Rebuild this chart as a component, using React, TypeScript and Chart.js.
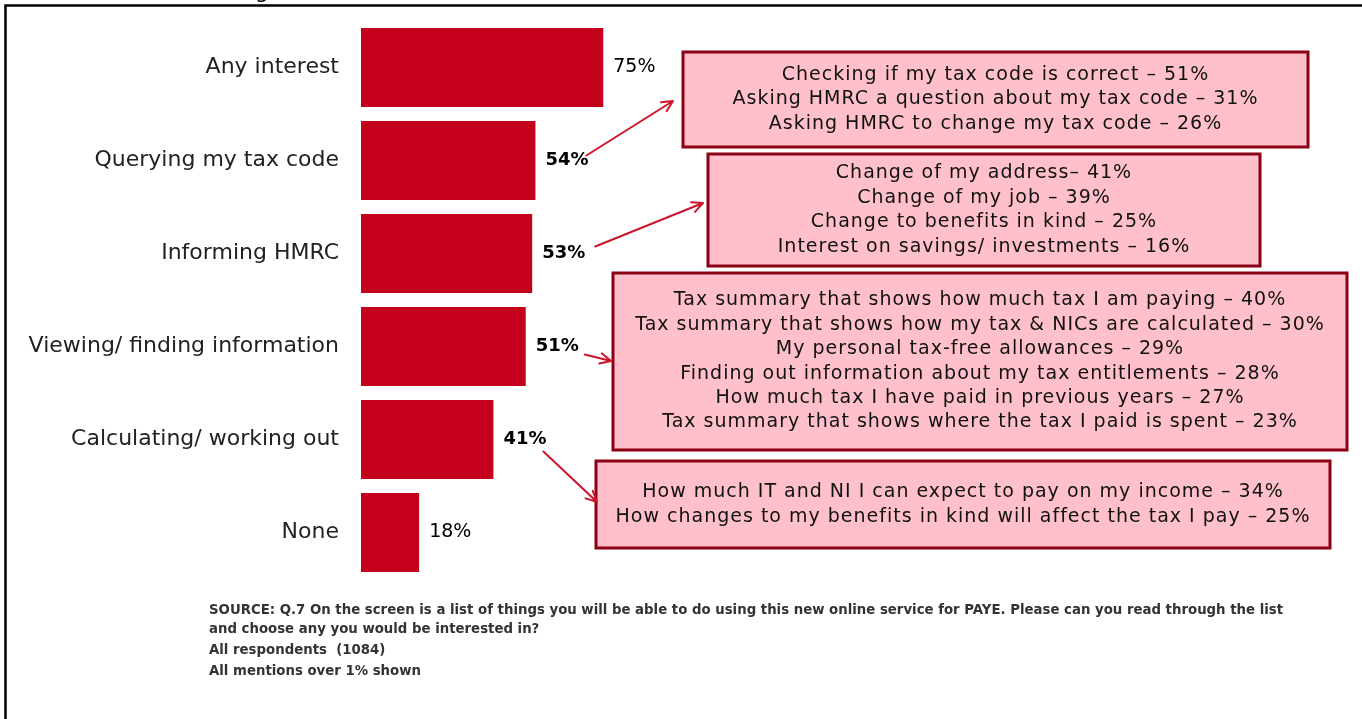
import { useEffect, useRef } from 'react';
import { Chart, registerables } from 'chart.js';

Chart.register(...registerables);

const categories = [
  'Any interest',
  'Querying my tax code',
  'Informing HMRC',
  'Viewing/ finding information',
  'Calculating/ working out',
  'None',
];
const values = [75, 54, 53, 51, 41, 18];
const boldValueLabel = [false, true, true, true, true, false];

const queryingDetails = [
  'Checking if my tax code is correct – 51%',
  'Asking HMRC a question about my tax code – 31%',
  'Asking HMRC to change my tax code – 26%',
];
const informingDetails = [
  'Change of my address– 41%',
  'Change of my job – 39%',
  'Change to benefits in kind – 25%',
  'Interest on savings/ investments – 16%',
];
const viewingDetails = [
  'Tax summary that shows how much tax I am paying – 40%',
  'Tax summary that shows how my tax & NICs are calculated – 30%',
  'My personal tax-free allowances – 29%',
  'Finding out information about my tax entitlements – 28%',
  'How much tax I have paid in previous years – 27%',
  'Tax summary that shows where the tax I paid is spent – 23%',
];
const calculatingDetails = [
  'How much IT and NI I can expect to pay on my income – 34%',
  'How changes to my benefits in kind will affect the tax I pay – 25%',
];
const footnotes = [
  'SOURCE: Q.7 On the screen is a list of things you will be able to do using this new online service for PAYE. Please can you read through the list',
  'and choose any you would be interested in?',
  'All respondents  (1084)',
  'All mentions over 1% shown',
];

// layout of callout boxes (pixel positions) and which bar they point from
const calloutLayout = [
  { lines: queryingDetails, barIndex: 1, rect: [683, 52, 1308, 147], start: [51, -5], end: [673, 101] },
  { lines: informingDetails, barIndex: 2, rect: [708, 154, 1260, 266], start: [63, -7], end: [703, 203] },
  { lines: viewingDetails, barIndex: 3, rect: [613, 273, 1347, 450], start: [59, 8], end: [611, 361] },
  { lines: calculatingDetails, barIndex: 4, rect: [596, 461, 1330, 548], start: [50, 12], end: [597, 502] },
];

const BAR_COLOR = 'rgb(197,0,26)';
const ARROW_COLOR = 'rgb(205,20,45)';
const FONT = '"DejaVu Sans", Verdana, sans-serif';

function drawArrow(ctx: CanvasRenderingContext2D, x1: number, y1: number, x2: number, y2: number) {
  const ang = Math.atan2(y2 - y1, x2 - x1);
  const len = 12;
  const spread = 0.45;
  ctx.save();
  ctx.strokeStyle = ARROW_COLOR;
  ctx.lineWidth = 2;
  ctx.lineCap = 'round';
  ctx.beginPath();
  ctx.moveTo(x1, y1);
  ctx.lineTo(x2, y2);
  ctx.moveTo(x2, y2);
  ctx.lineTo(x2 - len * Math.cos(ang - spread), y2 - len * Math.sin(ang - spread));
  ctx.moveTo(x2, y2);
  ctx.lineTo(x2 - len * Math.cos(ang + spread), y2 - len * Math.sin(ang + spread));
  ctx.stroke();
  ctx.restore();
}

const decorPlugin = {
  id: 'decor',
  beforeDraw(chart: any) {
    const ctx = chart.ctx as CanvasRenderingContext2D;
    ctx.save();
    ctx.fillStyle = '#fff';
    ctx.fillRect(0, 0, chart.width, chart.height);
    // frame
    ctx.strokeStyle = '#000';
    ctx.lineWidth = 2.5;
    ctx.beginPath();
    ctx.moveTo(5.5, chart.height);
    ctx.lineTo(5.5, 5.5);
    ctx.lineTo(chart.width, 5.5);
    ctx.stroke();
    // clipped title fragment
    ctx.fillStyle = '#000';
    ctx.font = `22px ${FONT}`;
    ctx.textBaseline = 'alphabetic';
    ctx.textAlign = 'left';
    ctx.fillText('g', 255, -2);
    ctx.restore();
  },
  afterDatasetsDraw(chart: any) {
    const ctx = chart.ctx as CanvasRenderingContext2D;
    const meta = chart.getDatasetMeta(0);
    ctx.save();
    // value labels
    meta.data.forEach((bar: any, i: number) => {
      ctx.fillStyle = '#000';
      ctx.font = boldValueLabel[i] ? `bold 18px ${FONT}` : `19px ${FONT}`;
      ctx.textAlign = 'left';
      ctx.textBaseline = 'middle';
      ctx.fillText(`${values[i]}%`, bar.x + 10, bar.y);
    });
    // callouts
    calloutLayout.forEach((c) => {
      const [x1, y1, x2, y2] = c.rect;
      ctx.fillStyle = 'rgb(255,192,203)';
      ctx.fillRect(x1, y1, x2 - x1, y2 - y1);
      ctx.strokeStyle = 'rgb(140,0,20)';
      ctx.lineWidth = 3;
      ctx.strokeRect(x1, y1, x2 - x1, y2 - y1);
      ctx.fillStyle = '#111';
      ctx.font = `19px ${FONT}`;
      (ctx as any).letterSpacing = '1px';
      ctx.textAlign = 'center';
      ctx.textBaseline = 'middle';
      const lh = 24.4;
      const cx = (x1 + x2) / 2;
      const cy = (y1 + y2) / 2;
      const top = cy - ((c.lines.length - 1) * lh) / 2;
      c.lines.forEach((t, k) => ctx.fillText(t, cx, top + k * lh));
      (ctx as any).letterSpacing = '0px';
      const bar = meta.data[c.barIndex];
      drawArrow(ctx, bar.x + c.start[0], bar.y + c.start[1], c.end[0], c.end[1]);
    });
    // footnotes
    ctx.fillStyle = '#333';
    ctx.font = `bold 13.3px ${FONT}`;
    ctx.textAlign = 'left';
    ctx.textBaseline = 'middle';
    const fy = [611, 630, 651, 672];
    footnotes.forEach((t, k) => ctx.fillText(t, 209, fy[k]));
    ctx.restore();
  },
};

export default function App() {
  const ref = useRef<HTMLCanvasElement>(null);
  useEffect(() => {
    if (!ref.current) return;
    const chart = new Chart(ref.current, {
      type: 'bar',
      data: {
        labels: categories,
        datasets: [
          {
            data: values,
            backgroundColor: BAR_COLOR,
            borderWidth: 0,
            barPercentage: 1,
            categoryPercentage: 0.85,
          },
        ],
      },
      options: {
        indexAxis: 'y',
        animation: false,
        responsive: false,
        maintainAspectRatio: false,
        layout: { padding: { left: 0, right: 678, top: 21, bottom: 140 } },
        plugins: { legend: { display: false }, tooltip: { enabled: false }, title: { display: false } },
        scales: {
          x: { display: false, min: 0, max: 100 },
          y: {
            grid: { display: false, drawTicks: false },
            border: { display: false },
            ticks: { color: '#222', font: { family: FONT, size: 22 }, padding: 22 },
            afterFit: (scale: any) => {
              scale.width = 361;
              scale.paddingTop = 0;
              scale.paddingBottom = 0;
            },
          },
        },
      },
      plugins: [decorPlugin],
    });
    return () => chart.destroy();
  }, []);
  return (
    <div style={{ position: 'absolute', left: 0, top: 0, width: 1362, height: 719 }}>
      <canvas ref={ref} width={1362} height={719} style={{ display: 'block' }} />
    </div>
  );
}
